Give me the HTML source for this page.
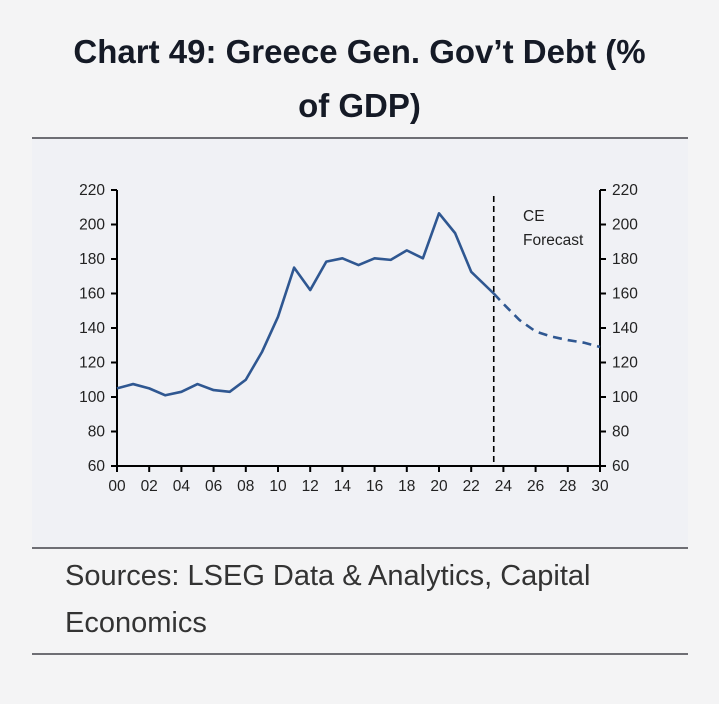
<!DOCTYPE html>
<html><head><meta charset="utf-8"><style>
body{margin:0;width:719px;height:704px;background:#f4f4f5;font-family:"Liberation Sans",sans-serif;position:relative;overflow:hidden}
.title{position:absolute;left:0;top:25px;width:719px;text-align:center;font-weight:bold;font-size:33px;line-height:54px;color:#151a26}
.rule{position:absolute;left:32px;width:656px;height:2px;background:#6e6e74}
.panel{position:absolute;left:32px;top:139px;width:656px;height:408px;background:#f0f1f5}
.src{position:absolute;left:65px;top:553px;font-size:29px;line-height:47px;color:#333}
svg text{font-family:"Liberation Sans",sans-serif;font-size:15.5px;fill:#222}
</style></head><body>
<div class="title">Chart 49: Greece Gen. Gov’t Debt (%<br>of GDP)</div>
<div class="rule" style="top:137px"></div>
<div class="panel"></div>
<svg id="chart" width="719" height="704" style="position:absolute;left:0;top:0"></svg>
<div class="rule" style="top:547px"></div>
<div class="src">Sources: LSEG Data &amp; Analytics, Capital<br>Economics</div>
<div class="rule" style="top:653px"></div>
<script>
const years=[2000,2001,2002,2003,2004,2005,2006,2007,2008,2009,2010,2011,2012,2013,2014,2015,2016,2017,2018,2019,2020,2021,2022,2023.4];
const debt=[105,107.5,105,101,103,107.5,104,103,110,126,146.5,175,162,178.5,180.4,176.5,180.4,179.5,185,180.4,206.5,195,172.6,160];
const fcYears=[2023.4,2024,2025,2026,2027,2028,2029,2030];
const fcDebt=[160,154,144.6,138,135,133,131.5,129];
const yTicks=[60,80,100,120,140,160,180,200,220];
const xTicks=[2000,2002,2004,2006,2008,2010,2012,2014,2016,2018,2020,2022,2024,2026,2028,2030];
const forecastStart=2023.4;
const svg=document.getElementById('chart');
const NS='http://www.w3.org/2000/svg';
const L=117,R=600,T=190,B=466;
const X=v=>L+(v-2000)/30*(R-L);
const Y=v=>B-(v-60)/160*(B-T);
function mk(tag,a){const e=document.createElementNS(NS,tag);for(const k in a)e.setAttribute(k,a[k]);svg.appendChild(e);return e;}
let e;
e=mk('line',{x1:L,y1:T,x2:L,y2:B,stroke:'#000','stroke-width':2});


e=mk('line',{x1:R,y1:T,x2:R,y2:B,stroke:'#000','stroke-width':2});


e=mk('line',{x1:L,y1:B,x2:R,y2:B,stroke:'#000','stroke-width':2});


yTicks.forEach(v=>{
  mk('line',{x1:L-6,y1:Y(v),x2:L,y2:Y(v),stroke:'#000','stroke-width':2});
  mk('line',{x1:R,y1:Y(v),x2:R+6,y2:Y(v),stroke:'#000','stroke-width':2});
  e=mk('text',{x:L-12,y:Y(v)+5,'text-anchor':'end'});e.textContent=v;
  
  
  e=mk('text',{x:R+12,y:Y(v)+5,'text-anchor':'start'});e.textContent=v;
  
  
});
xTicks.forEach(v=>{
  mk('line',{x1:X(v),y1:B,x2:X(v),y2:B+6,stroke:'#000','stroke-width':2});
  e=mk('text',{x:X(v),y:B+25,'text-anchor':'middle'});e.textContent=String(v%100).padStart(2,'0');
  
  
});
e=mk('line',{x1:X(forecastStart),y1:196,x2:X(forecastStart),y2:B,stroke:'#000','stroke-width':1.6,'stroke-dasharray':'6,4'});


e=mk('text',{x:523,y:221});e.textContent='CE';


e=mk('text',{x:523,y:245});e.textContent='Forecast';


e=mk('polyline',{points:years.map((y,i)=>X(y)+','+Y(debt[i])).join(' '),fill:'none',stroke:'#2f5791','stroke-width':2.6,'stroke-linejoin':'round'});


e=mk('polyline',{points:fcYears.map((y,i)=>X(y)+','+Y(fcDebt[i])).join(' '),fill:'none',stroke:'#2f5791','stroke-width':2.6,'stroke-dasharray':'9,6'});


</script>
</body></html>
